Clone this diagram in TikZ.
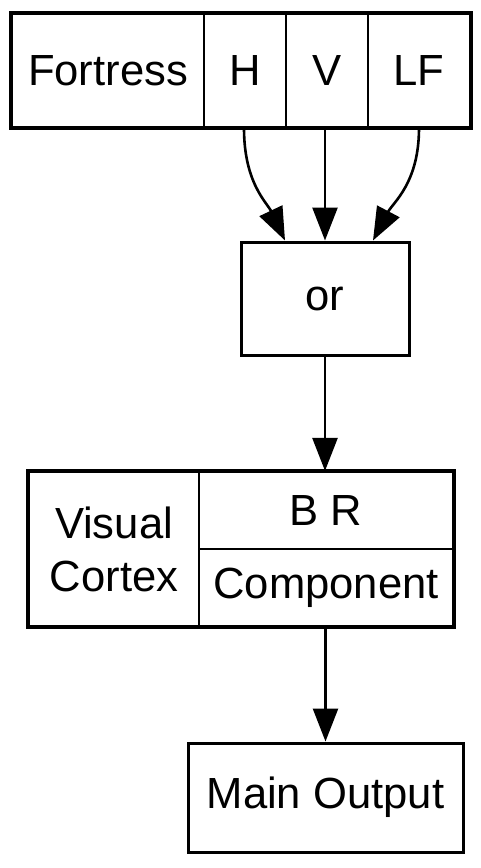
\documentclass[tikz,border=0pt]{standalone}
\usepackage{fontspec}
\setmainfont{Liberation Sans}
\usetikzlibrary{arrows.meta,calc}
\begin{document}
\begin{tikzpicture}[x=1pt,y=-1pt,
  field/.style={draw,line width=2.2pt,inner sep=0pt,align=center,
    font=\fontsize{43.6}{53}\selectfont},
  frame/.style={draw,line width=3pt},
  conn/.style={line width=2.6pt,-{Triangle[length=33pt,width=25pt]}}]
\useasboundingbox (0,0) rectangle (481,868);
% top record
\node[field,minimum width=192pt,minimum height=113pt] (fort) at (108,70.5) {Fortress};
\node[field,minimum width=82pt,minimum height=113pt] (h) at (245,70.5) {H};
\node[field,minimum width=82pt,minimum height=113pt] (v) at (327,70.5) {V};
\node[field,minimum width=102pt,minimum height=113pt] (lf) at (419,70.5) {LF};
\draw[frame] (fort.north west) rectangle (lf.south east);
% or
\node[field,line width=3pt,minimum width=168pt,minimum height=113pt] (or) at (325,298.5) {or};
% visual cortex record
\node[field,minimum width=170pt,minimum height=154pt] (vc) at (114,549) {Visual\\Cortex};
\node[field,minimum width=254pt,minimum height=77pt] (br) at (326,510.5) {B R};
\node[field,minimum width=254pt,minimum height=77pt] (comp) at (326,587.5) {Component};
\draw[frame] (vc.north west) rectangle (comp.south east);
% main output
\node[field,line width=3pt,minimum width=275pt,minimum height=109pt] (out) at (325.5,797.5) {Main Output};
% connectors
\coordinate (hs) at (h.south -| 244,0);
\coordinate (he) at ($(or.north)+(-40,0)$);
\coordinate (ls) at (lf.south);
\coordinate (le) at ($(or.north)+(48,0)$);
\coordinate (vs) at (325,127);
\coordinate (ve) at (or.north);
\draw[conn] (hs) .. controls ($(hs)+(0,55)$) and ($(he)+(-18,-38)$) .. (he);
\draw[conn] (vs) -- (ve);
\draw[conn] (ls) .. controls ($(ls)+(0,55)$) and ($(le)+(20,-38)$) .. (le);
\draw[conn] (or.south) -- (br.north -| or.south);
\draw[conn] (comp.south -| out.north) -- (out.north);
\end{tikzpicture}
\end{document}
